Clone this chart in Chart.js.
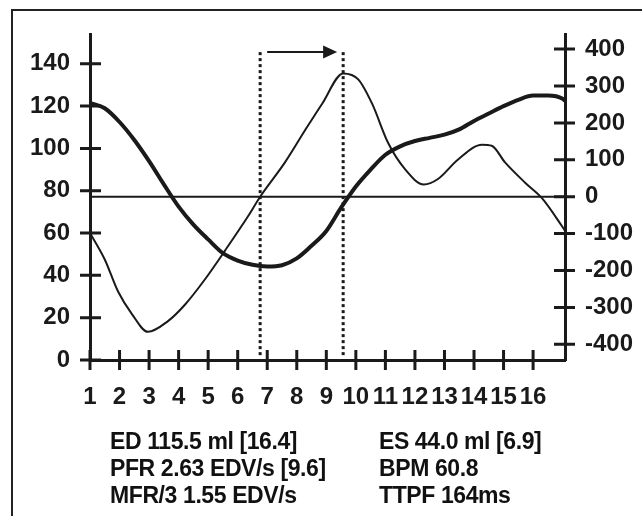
<!DOCTYPE html>
<html>
<head>
<meta charset="utf-8">
<script src="https://cdn.jsdelivr.net/npm/chart.js@4.4.1/dist/chart.umd.min.js"></script>
<style>
  html, body { margin: 0; padding: 0; background: #fff; }
  #wrap { position: relative; width: 642px; height: 516px; overflow: hidden; }
  #frame { position: absolute; left: 11px; top: 9px; width: 700px; height: 600px; border: 2px solid #222; box-sizing: border-box; }
  canvas { position: absolute; left: 0; top: 0; }
  .stats { position: absolute; top: 428px; font: bold 23px "Liberation Sans", Arial, sans-serif; letter-spacing: -0.4px; line-height: 27px; color: #111; white-space: nowrap; }
</style>
</head>
<body>
<div id="wrap">
  <div id="frame"></div>
  <canvas id="curves" width="642" height="516"></canvas>
  <div class="stats" style="left:110px">ED 115.5 ml [16.4]<br>PFR 2.63 EDV/s [9.6]<br>MFR/3 1.55 EDV/s</div>
  <div class="stats" style="left:379px">ES 44.0 ml [6.9]<br>BPM 60.8<br>TTPF 164ms</div>
</div>
<script>
// volume curve (left axis, ml)
const volFrames = [1, 1.5, 2, 2.5, 3, 3.5, 4, 4.5, 5, 5.5, 6, 6.5, 7, 7.5, 8, 8.5, 9, 9.5, 10, 10.5, 11, 11.5, 12, 12.5, 13, 13.5, 14, 14.5, 15, 15.5, 16, 16.5, 17, 17.08];
const volume = [121.5, 119, 112.5, 104, 94, 83, 72.5, 64, 57, 50.5, 47, 45, 44.2, 44.8, 48, 54, 61, 72, 82, 90, 97, 101, 103.5, 105, 106.5, 109, 113, 116.5, 120, 123, 125, 125, 123.5, 122.5];

// filling rate curve (right axis)
const rateFrames = [1, 1.5, 1.95, 2.42, 2.96, 3.64, 4.22, 4.9, 5.57, 6.35, 6.76, 7.6, 8.28, 8.86, 9.57, 10.08, 10.55, 11.09, 11.67, 12.3, 12.78, 13.46, 14.27, 14.6, 15.05, 15.73, 16.3, 16.98, 17.08];
const rate = [-98, -170, -257, -318, -366, -337, -292, -223, -146, -53, 0, 93, 180, 252, 334, 318, 252, 146, 74, 33, 48, 101, 141, 138, 93, 38, -4, -80, -92];

const xTicks = [1, 2, 3, 4, 5, 6, 7, 8, 9, 10, 11, 12, 13, 14, 15, 16];
const leftTicks = [0, 20, 40, 60, 80, 100, 120, 140];
const rightTicks = [-400, -300, -200, -100, 0, 100, 200, 300, 400];

// ES and PFR frame markers
const markerX = [6.76, 9.57];

const ink = '#1a1a1a';
const font = { family: "'Liberation Sans', Arial, sans-serif", size: 24, weight: 'bold' };
const markerTop = 145.6;
const markerBottom = 2.3;

const crossTicks = {
    id: 'crossTicks',
    afterDraw(chart) {
        const { ctx, scales, chartArea } = chart;
        ctx.save();
        ctx.strokeStyle = ink;
        ctx.lineWidth = 3;
        ctx.beginPath();
        scales.x.ticks.forEach(t => {
            const px = scales.x.getPixelForValue(t.value);
            ctx.moveTo(px, chartArea.bottom - 10);
            ctx.lineTo(px, chartArea.bottom + 10);
        });
        scales.y.ticks.forEach(t => {
            const py = scales.y.getPixelForValue(t.value);
            ctx.moveTo(chartArea.left - 10, py);
            ctx.lineTo(chartArea.left + 11, py);
        });
        scales.y1.ticks.forEach(t => {
            const py = scales.y1.getPixelForValue(t.value);
            ctx.moveTo(chartArea.right - 11, py);
            ctx.lineTo(chartArea.right + 10, py);
        });
        ctx.stroke();

        // arrow between the two markers
        const ay = scales.y.getPixelForValue(markerTop);
        const x0 = scales.x.getPixelForValue(markerX[0]) + 7;
        const x1 = scales.x.getPixelForValue(markerX[1]) - 6;
        ctx.lineWidth = 2;
        ctx.beginPath();
        ctx.moveTo(x0, ay);
        ctx.lineTo(x1 - 12, ay);
        ctx.stroke();
        ctx.fillStyle = ink;
        ctx.beginPath();
        ctx.moveTo(x1, ay);
        ctx.lineTo(x1 - 14, ay - 6.5);
        ctx.lineTo(x1 - 14, ay + 6.5);
        ctx.closePath();
        ctx.fill();
        ctx.restore();
    }
};

const toPoints = (xs, ys) => xs.map((x, i) => ({ x: x, y: ys[i] }));

new Chart(document.getElementById('curves'), {
    type: 'line',
    data: {
        datasets: [
            {
                data: toPoints(volFrames, volume),
                yAxisID: 'y',
                borderColor: ink,
                borderWidth: 4,
                pointRadius: 0,
                cubicInterpolationMode: 'monotone'
            },
            {
                data: toPoints(rateFrames, rate),
                yAxisID: 'y1',
                borderColor: ink,
                borderWidth: 2,
                pointRadius: 0,
                cubicInterpolationMode: 'monotone'
            },
            {
                data: [{ x: volFrames[0], y: 0 }, { x: volFrames[volFrames.length - 1], y: 0 }],
                yAxisID: 'y1',
                borderColor: ink,
                borderWidth: 2,
                pointRadius: 0
            },
            ...markerX.map(m => ({
                data: [{ x: m, y: markerBottom }, { x: m, y: markerTop }],
                yAxisID: 'y',
                borderColor: ink,
                borderWidth: 3,
                borderDash: [3, 3],
                pointRadius: 0
            }))
        ]
    },
    options: {
        responsive: false,
        animation: false,
        devicePixelRatio: 1,
        layout: { padding: { top: 27, left: 0, right: 0, bottom: 0 } },
        plugins: { legend: { display: false }, tooltip: { enabled: false } },
        scales: {
            x: {
                type: 'linear',
                min: 1,
                max: 17.08,
                afterBuildTicks: s => { s.ticks = xTicks.map(v => ({ value: v })); },
                afterFit: s => { s.height = 156; },
                grid: { display: false, drawTicks: false },
                border: { display: true, width: 3, color: ink },
                ticks: { autoSkip: false, maxRotation: 0, padding: 23, font: font, color: ink }
            },
            y: {
                position: 'left',
                min: 0,
                max: 153.9,
                afterBuildTicks: s => { s.ticks = leftTicks.map(v => ({ value: v })); },
                afterFit: s => { s.width = 90; },
                grid: { display: false, drawTicks: false },
                border: { display: true, width: 3, color: ink },
                ticks: { padding: 20, font: font, color: ink }
            },
            y1: {
                position: 'right',
                min: -442.4,
                max: 439.7,
                afterBuildTicks: s => { s.ticks = rightTicks.map(v => ({ value: v })); },
                afterFit: s => { s.width = 77; },
                grid: { display: false, drawTicks: false },
                border: { display: true, width: 3, color: ink },
                ticks: { padding: 20, font: font, color: ink }
            }
        }
    },
    plugins: [crossTicks]
});
</script>
</body>
</html>
